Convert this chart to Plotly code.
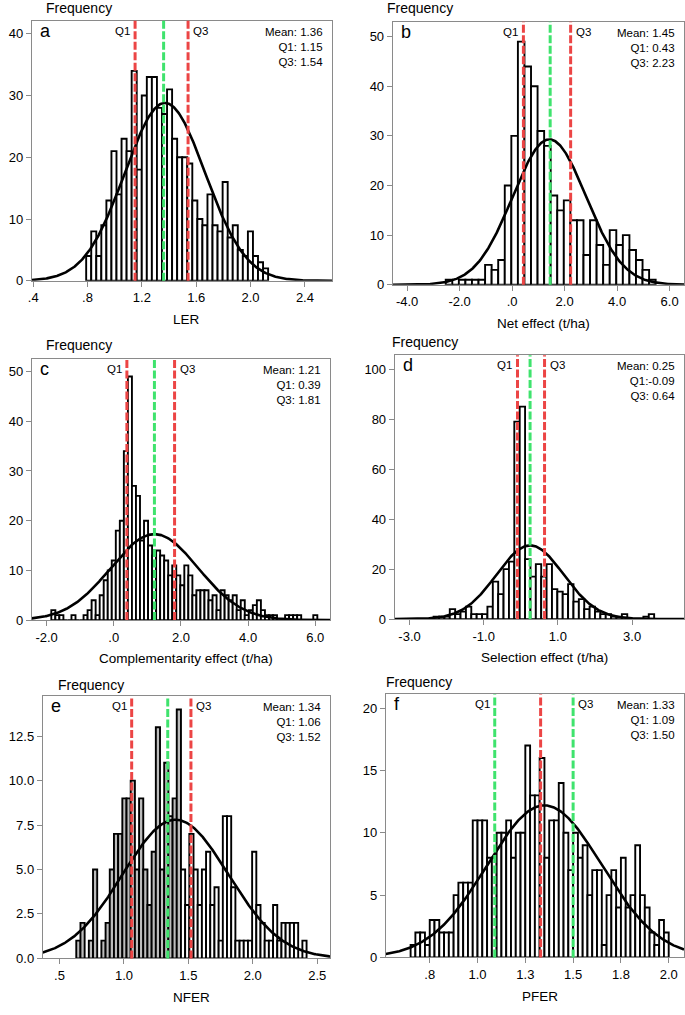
import numpy as np
import plotly.graph_objects as go

W, H = 685, 1015

# ---------------- data ----------------
# a: LER
ler_start, ler_width = 0.79, 0.0372
ler_counts = [4, 8, 4, 9, 13, 21, 14, 23, 21, 34, 18, 30, 33, 33, 28, 27, 31, 23,
              20, 20, 19, 13, 10, 9, 14, 9, 8, 16, 7, 9, 5, 4, 8, 4, 3, 2]
ler_stats = [1.36, 1.15, 1.54]          # mean, Q1, Q3
ler_fit = [1.37, 0.296, 28.8]           # mu, sd, peak height of fitted normal

# b: Net effect
net_start, net_width = -2.53, 0.25
net_counts = [1, 0, 1, 1, 1, 1, 4, 3, 5, 20, 30, 49, 44, 40, 31, 28, 18, 15, 17,
              13, 13, 6, 13, 8, 4, 11, 8, 10, 7, 5, 3, 1]
net_stats = [1.45, 0.43, 2.23]
net_fit = [1.42, 1.40, 29.3]

# c: Complementarity effect
comp_start, comp_width = -1.86, 0.12
comp_counts = [2, 1, 1, 0, 0, 1, 0, 0, 1, 2, 4, 1, 5, 8, 10, 12, 18, 20, 34,
               49, 27, 25, 16, 20, 15, 13, 14, 13, 12, 9, 11,
               9, 7, 11, 9, 5, 6, 6, 6, 4, 5, 2, 6, 5, 4, 5, 2, 4, 1, 2, 3,
               4, 2, 1, 1, 1, 0, 0, 1, 1, 1, 1, 0, 0, 0, 1]
comp_stats = [1.21, 0.39, 1.81]
comp_fit = [1.21, 1.30, 17.3]

# d: Selection effect
sel_start, sel_width = -2.35, 0.145
sel_counts = [1, 1, 1, 4, 2, 3, 5, 2, 2, 2, 5, 15, 10, 20, 23,
              79, 85, 24, 17, 22, 17, 22, 12, 11, 10, 14, 7, 8, 4, 5, 3, 2, 2,
              1, 1, 2, 0, 0, 0, 1, 2]
sel_stats = [0.25, -0.09, 0.64]
sel_fit = [0.25, 0.90, 29.5]

# e: NFER
nfer_start, nfer_width = 0.63, 0.0325
nfer_counts = [1, 2, 0, 1, 5, 0, 1, 2, 5, 7, 7, 9, 9,
               10, 5, 9, 5, 3, 6, 13, 5, 11, 8, 9, 14,
               5, 3, 7, 5, 3, 5, 6, 3, 4, 1, 8, 8, 4, 1, 1, 1, 1, 6, 3, 2,
               1, 1, 3, 1, 2, 2, 2, 2, 0, 1]
nfer_stats = [1.34, 1.06, 1.52]
nfer_fit = [1.40, 0.41, 7.8]

# f: PFER
pfer_start, pfer_width = 0.65, 0.025
pfer_counts = [1, 2, 2, 1, 3, 3, 2, 2, 2, 5, 6, 6, 6, 11, 11, 11, 8, 8, 10, 10,
               11, 8, 10, 10, 17, 13, 13, 16, 8, 11, 11, 14, 10, 7, 10, 8, 9, 5,
               7, 7, 1, 5, 7, 4, 8, 4, 5, 9, 5, 4, 2, 1, 3, 2]
pfer_stats = [1.33, 1.09, 1.50]
pfer_fit = [1.35, 0.30, 12.2]

# ---------------- panel setup ----------------
RED = "#ec4545"
GREEN = "#3fe36d"
FONT = "Liberation Sans, Arial, Helvetica, sans-serif"

panels = [
    dict(letter="a", title="LER", box=(28, 21, 330, 283), xr=[0.39, 2.6], yr=[0, 42.1],
         xt=[0.4, 0.8, 1.2, 1.6, 2.0, 2.4], xtt=[".4", ".8", "1.2", "1.6", "2.0", "2.4"],
         yt=[0, 10, 20, 30, 40], ytt=["0", "10", "20", "30", "40"],
         start=ler_start, w=ler_width, counts=ler_counts, stats=ler_stats, fit=ler_fit,
         qcol=RED, mcol=GREEN, q1txt="Q1: 1.15", freq=(40, 8)),
    dict(letter="b", title="Net effect (t/ha)", box=(391, 22, 684, 287), xr=[-4.55, 6.55], yr=[0, 53],
         xt=[-4, -2, 0, 2, 4, 6], xtt=["-4.0", "-2.0", ".0", "2.0", "4.0", "6.0"],
         yt=[0, 10, 20, 30, 40, 50], ytt=["0", "10", "20", "30", "40", "50"],
         start=net_start, w=net_width, counts=net_counts, stats=net_stats, fit=net_fit,
         qcol=RED, mcol=GREEN, q1txt="Q1: 0.43", freq=(383, 8)),
    dict(letter="c", title="Complementarity effect (t/ha)", box=(28, 362, 328, 625), xr=[-2.44, 6.44], yr=[0, 52.5],
         xt=[-2, 0, 2, 4, 6], xtt=["-2.0", ".0", "2.0", "4.0", "6.0"],
         yt=[0, 10, 20, 30, 40, 50], ytt=["0", "10", "20", "30", "40", "50"],
         start=comp_start, w=comp_width, counts=comp_counts, stats=comp_stats, fit=comp_fit,
         qcol=RED, mcol=GREEN, q1txt="Q1: 0.39", freq=(40, 348)),
    dict(letter="d", title="Selection effect (t/ha)", box=(393, 358, 684, 624), xr=[-3.4, 4.4], yr=[0, 105.6],
         xt=[-3, -1, 1, 3], xtt=["-3.0", "-1.0", "1.0", "3.0"],
         yt=[0, 20, 40, 60, 80, 100], ytt=["0", "20", "40", "60", "80", "100"],
         start=sel_start, w=sel_width, counts=sel_counts, stats=sel_stats, fit=sel_fit,
         qcol=RED, mcol=GREEN, q1txt="Q1:-0.09", freq=(388, 345)),
    dict(letter="e", title="NFER", box=(39, 702, 328, 966), xr=[0.37, 2.6], yr=[0, 14.73],
         xt=[0.5, 1.0, 1.5, 2.0, 2.5], xtt=[".5", "1.0", "1.5", "2.0", "2.5"],
         yt=[0, 2.5, 5, 7.5, 10, 12.5], ytt=["0.0", "2.5", "5.0", "7.5", "10.0", "12.5"],
         start=nfer_start, w=nfer_width, counts=nfer_counts, stats=nfer_stats, fit=nfer_fit,
         qcol=RED, mcol=GREEN, q1txt="Q1: 1.06", gray_below=1.45, freq=(52, 690)),
    dict(letter="f", title="PFER", box=(384, 700, 684, 965), xr=[0.52, 2.08], yr=[0, 21.1],
         xt=[0.75, 1.0, 1.25, 1.5, 1.75, 2.0], xtt=[".8", "1.0", "1.3", "1.5", "1.8", "2.0"],
         yt=[0, 5, 10, 15, 20], ytt=["0", "5", "10", "15", "20"],
         start=pfer_start, w=pfer_width, counts=pfer_counts, stats=pfer_stats, fit=pfer_fit,
         qcol=GREEN, mcol=RED, q1txt="Q1: 1.09", freq=(382, 687)),
]

fig = go.Figure()
layout = {}
shapes = []
annotations = []


def fx(x):
    return x / W


def fy(y):
    return 1 - y / H


def ann(text, x, y, xanchor="left", yanchor="middle", size=13, align="left", **kw):
    annotations.append(dict(text=text, x=fx(x), y=fy(y), xref="paper", yref="paper",
                            xanchor=xanchor, yanchor=yanchor, showarrow=False, align=align,
                            font=dict(family=FONT, size=size, color="black"), **kw))


for i, p in enumerate(panels, start=1):
    xa = "x" if i == 1 else f"x{i}"
    ya = "y" if i == 1 else f"y{i}"
    l, t, r, b = p["box"]
    counts = np.array(p["counts"], dtype=float)
    centers = p["start"] + p["w"] * (np.arange(len(counts)) + 0.5)
    if "gray_below" in p:
        fills = ["#bcbcbc" if c < p["gray_below"] else "white" for c in centers]
    else:
        fills = "white"
    fig.add_trace(go.Bar(x=centers, y=counts, width=p["w"], xaxis=xa, yaxis=ya,
                         marker=dict(color=fills, line=dict(color="black", width=1.9)),
                         showlegend=False, hoverinfo="skip"))
    mu, sd, peak = p["fit"]
    xs = np.linspace(p["xr"][0], p["xr"][1], 400)
    ys = peak * np.exp(-0.5 * ((xs - mu) / sd) ** 2)
    fig.add_trace(go.Scatter(x=xs, y=ys, mode="lines", xaxis=xa, yaxis=ya,
                             line=dict(color="black", width=2.6), showlegend=False,
                             hoverinfo="skip"))

    axis_common = dict(showline=True, linecolor="#8a8a8a", linewidth=1, mirror=True,
                       ticks="outside", ticklen=5, tickcolor="#8a8a8a", showgrid=False,
                       zeroline=False, tickfont=dict(family=FONT, size=13, color="black"),
                       fixedrange=True)
    layout["xaxis" if i == 1 else f"xaxis{i}"] = dict(
        domain=[fx(l), min(fx(r), 1.0)], range=p["xr"], anchor=ya, tickmode="array",
        tickvals=p["xt"], ticktext=p["xtt"], **axis_common)
    layout["yaxis" if i == 1 else f"yaxis{i}"] = dict(
        domain=[fy(b), fy(t)], range=p["yr"], anchor=xa, tickmode="array",
        tickvals=p["yt"], ticktext=p["ytt"], **axis_common)

    mean, q1, q3 = p["stats"]
    for v, col in ((q1, p["qcol"]), (mean, p["mcol"]), (q3, p["qcol"])):
        shapes.append(dict(type="line", xref=xa, yref=f"{ya} domain", x0=v, x1=v, y0=0, y1=1,
                           line=dict(color=col, width=3, dash="8px,2.5px"), layer="above"))
    # Q1 / Q3 labels near top
    annotations.append(dict(text="Q1", x=q1, y=1, xref=xa, yref=f"{ya} domain", xanchor="right",
                            yanchor="top", xshift=-3, yshift=-2, showarrow=False,
                            font=dict(family=FONT, size=11.5, color="black")))
    annotations.append(dict(text="Q3", x=q3, y=1, xref=xa, yref=f"{ya} domain", xanchor="left",
                            yanchor="top", xshift=3, yshift=-2, showarrow=False,
                            font=dict(family=FONT, size=11.5, color="black")))
    # stats box
    q3txt = f"Q3: {q3:.2f}"
    ann(f"Mean: {mean:.2f}<br>{p['q1txt']}<br>{q3txt}", r - 7, t + 3, xanchor="right",
        yanchor="top", size=11.5, align="right")
    # panel letter
    ann(p["letter"], l + 6, t + 10, size=18)
    # Frequency
    ann("Frequency", p["freq"][0], p["freq"][1], size=14)
    # x title
    ann(p["title"], (l + r) / 2 + 5, b + 39, xanchor="center", size=13.5)

fig.update_layout(
    width=W, height=H, margin=dict(l=0, r=0, t=0, b=0),
    paper_bgcolor="white", plot_bgcolor="white",
    shapes=shapes, annotations=annotations, barmode="overlay",
    font=dict(family=FONT), **layout)

# remove the default 8px page margin so the figure sits at the window's corner
fig.write_html("out.html", config={"displayModeBar": False},
               post_script="document.body.style.margin='0px';")
